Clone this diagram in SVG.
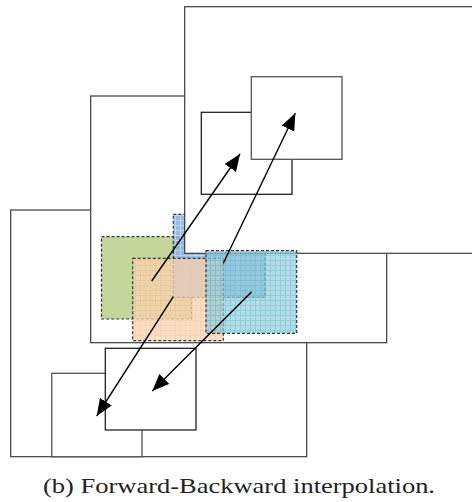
<svg xmlns="http://www.w3.org/2000/svg" width="472" height="502" viewBox="0 0 472 502">
<style>
.frame{fill:#fff;stroke:#3a3a3a;stroke-width:1.2}
.box{fill:#fff;stroke:#222;stroke-width:1.3}
.boxg{fill:#fff;stroke:#555;stroke-width:1.3}
.sel{stroke:#333;stroke-width:1.2;stroke-dasharray:3 2}
.arr{fill:none;stroke:#000;stroke-width:1.4;marker-end:url(#ah)}
.cap{font-family:"Liberation Serif","DejaVu Serif",serif;font-size:22px;fill:#222}
</style>
<defs>
<marker id="ah" markerUnits="userSpaceOnUse" markerWidth="18" markerHeight="14" refX="17" refY="7" orient="auto">
<path d="M0,0 L17,7 L0,14 Z" fill="#000"/>
</marker>
<pattern id="pBlue" width="5" height="5" patternUnits="userSpaceOnUse">
<rect width="5" height="5" fill="#8db4e2"/>
<path d="M0,0.5H5M0.5,0V5" stroke="#b8d0ee" stroke-width="1"/>
</pattern>
<pattern id="pOrange" width="5" height="5" patternUnits="userSpaceOnUse">
<rect width="5" height="5" fill="#fbd3b0"/>
<path d="M0,0.5H5M0.5,0V5" stroke="#f4c6a0" stroke-width="1"/>
</pattern>
<pattern id="pCyan" width="5" height="5" patternUnits="userSpaceOnUse">
<rect width="5" height="5" fill="#92cddc"/>
<path d="M0,0.5H5M0.5,0V5" stroke="#62b6cc" stroke-width="1"/>
</pattern>
</defs>
<rect width="472" height="502" fill="#fff"/>

<g id="frame-bottom"><rect class="frame" x="10.7" y="210" width="296" height="246.7"/></g>
<g id="frame-middle"><rect class="frame" x="90.7" y="96" width="296" height="246.7"/></g>
<g id="region-green"><rect class="sel" x="101.5" y="236.7" width="90.2" height="82.3" fill="#c3d69b"/></g>
<g id="region-blue"><rect class="sel" x="173.3" y="214.3" width="91.7" height="83" fill="url(#pBlue)" fill-opacity="0.9"/></g>
<g id="frame-top"><rect class="frame" x="184.7" y="6.7" width="300" height="246.6"/></g>
<g id="region-orange"><rect class="sel" x="132.7" y="258.3" width="90.6" height="82.4" fill="url(#pOrange)" fill-opacity="0.75"/></g>
<g id="region-cyan"><rect class="sel" x="206" y="250.7" width="90.7" height="82.6" fill="url(#pCyan)" fill-opacity="0.7"/></g>

<g id="block-top-back"><rect class="box" x="201.3" y="112.3" width="90.7" height="82"/></g>
<g id="block-top-front"><rect class="boxg" x="251.3" y="76.7" width="90.7" height="82.6"/></g>
<g id="block-bottom-back"><rect class="boxg" x="51.7" y="373.3" width="90.3" height="83.4"/></g>
<g id="block-bottom-front"><rect class="box" x="105.3" y="348.3" width="90.7" height="81.7"/></g>

<g id="connectors">
<line class="arr" x1="151.7" y1="281" x2="240" y2="154"/>
<line class="arr" x1="223.3" y1="263.3" x2="295.3" y2="113.3"/>
<line class="arr" x1="173.3" y1="296.7" x2="96.7" y2="416"/>
<line class="arr" x1="251.7" y1="291.7" x2="152.3" y2="391"/>
</g>

<text class="cap" x="239" y="493" text-anchor="middle" textLength="392" lengthAdjust="spacingAndGlyphs">(b) Forward-Backward interpolation.</text>
</svg>
